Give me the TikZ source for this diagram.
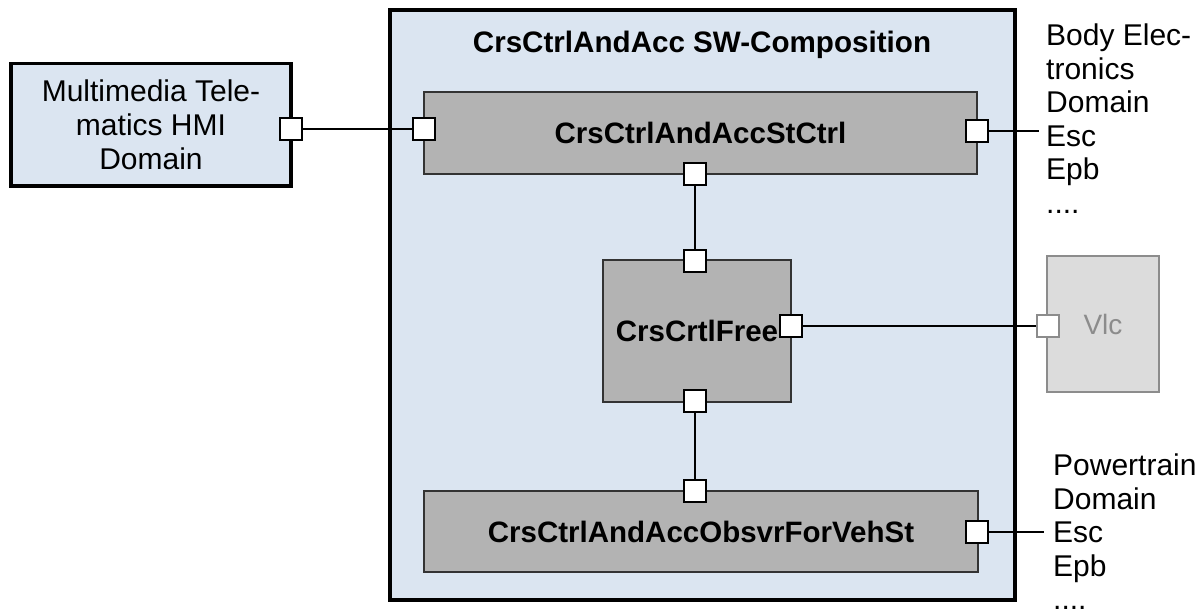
\documentclass[tikz,border=0pt]{standalone}
\usepackage{fontspec}
\setmainfont{Liberation Sans}
\definecolor{compblue}{HTML}{DBE5F1}
\definecolor{swgray}{HTML}{B3B3B3}
\definecolor{swedge}{HTML}{333333}
\definecolor{vlcfill}{HTML}{DCDCDC}
\definecolor{vlcedge}{HTML}{8C8C8C}
\tikzset{
  txt/.style={font=\fontsize{30}{33.5}\selectfont, inner sep=0pt},
  btxt/.style={font=\fontsize{29.6}{34}\selectfont\bfseries, inner sep=0pt},
  domainbox/.style={draw=black, fill=compblue, line width=3.6pt, inner sep=0pt,
    font=\fontsize{30}{34}\selectfont, align=center},
  compbox/.style={draw=black, fill=compblue, line width=4pt, inner sep=0pt},
  swc/.style={draw=swedge, fill=swgray, line width=1.4pt, inner sep=0pt,
    font=\fontsize{29.5}{34}\selectfont\bfseries},
  vlcbox/.style={draw=vlcedge, fill=vlcfill, line width=1.8pt, inner sep=0pt,
    text=vlcedge, font=\fontsize{28}{34}\selectfont},
  port/.style={draw=black, fill=white, line width=1.8pt, minimum size=22pt, inner sep=0pt},
  vport/.style={draw=vlcedge, fill=white, line width=1.6pt, minimum size=22pt, inner sep=0pt},
  conn/.style={draw=black, line width=1.7pt}
}
\begin{document}
\begin{tikzpicture}[x=1pt,y=-1pt]
\useasboundingbox (0,0) rectangle (1200,615);
\fill[white] (0,0) rectangle (1200,615);

% outer boxes
\node[domainbox, minimum width=280pt, minimum height=122.5pt] (mm) at (151,124.75)
  {Multimedia Tele-\\matics HMI\\Domain};
\node[compbox, minimum width=625pt, minimum height=589.5pt] (comp) at (702.5,304.75) {};
\node[btxt, anchor=base] (title) at (702,53) {CrsCtrlAndAcc SW-Composition};

% components
\node[swc, minimum width=553pt, minimum height=82pt] (stctrl) at (700.5,133) {CrsCtrlAndAccStCtrl};
\node[swc, minimum width=188pt, minimum height=142pt] (free) at (697,331) {CrsCrtlFree};
\node[swc, minimum width=554pt, minimum height=81pt] (obs) at (701,531.5) {CrsCtrlAndAccObsvrForVehSt};
\node[vlcbox, minimum width=112pt, minimum height=136pt] (vlc) at (1103,324) {Vlc};

% ports
\node[port] (pmm) at (291,129) {};
\node[port] (pstl) at (424,129) {};
\node[port] (pstr) at (977,131) {};
\node[port] (pstb) at (695,174) {};
\node[port] (pfrt) at (695,261) {};
\node[port] (pfrr) at (791,326) {};
\node[port] (pfrb) at (695,401) {};
\node[port] (pobt) at (695,491) {};
\node[port] (pobr) at (977,532) {};
\node[vport] (pvlc) at (1048,326) {};

\coordinate (endtop) at (1039,131);
\coordinate (endbot) at (1044,532);

% connectors
\draw[conn] (pmm.east) -- (pstl.west);
\draw[conn] (pstr.east) -- (endtop);
\draw[conn] (pstb.south) -- (pfrt.north);
\draw[conn] (pfrb.south) -- (pobt.north);
\draw[conn] (pfrr.east) -- (pvlc.west);
\draw[conn] (pobr.east) -- (endbot);

% side texts
\node[txt, anchor=north west, align=left] (body) at (1046,24)
  {Body Elec-\\tronics\\Domain\\Esc\\Epb\\....};
\node[txt, anchor=north west, align=left] (pt) at (1053,454)
  {Powertrain\\Domain\\Esc\\Epb\\....};
\end{tikzpicture}
\end{document}
